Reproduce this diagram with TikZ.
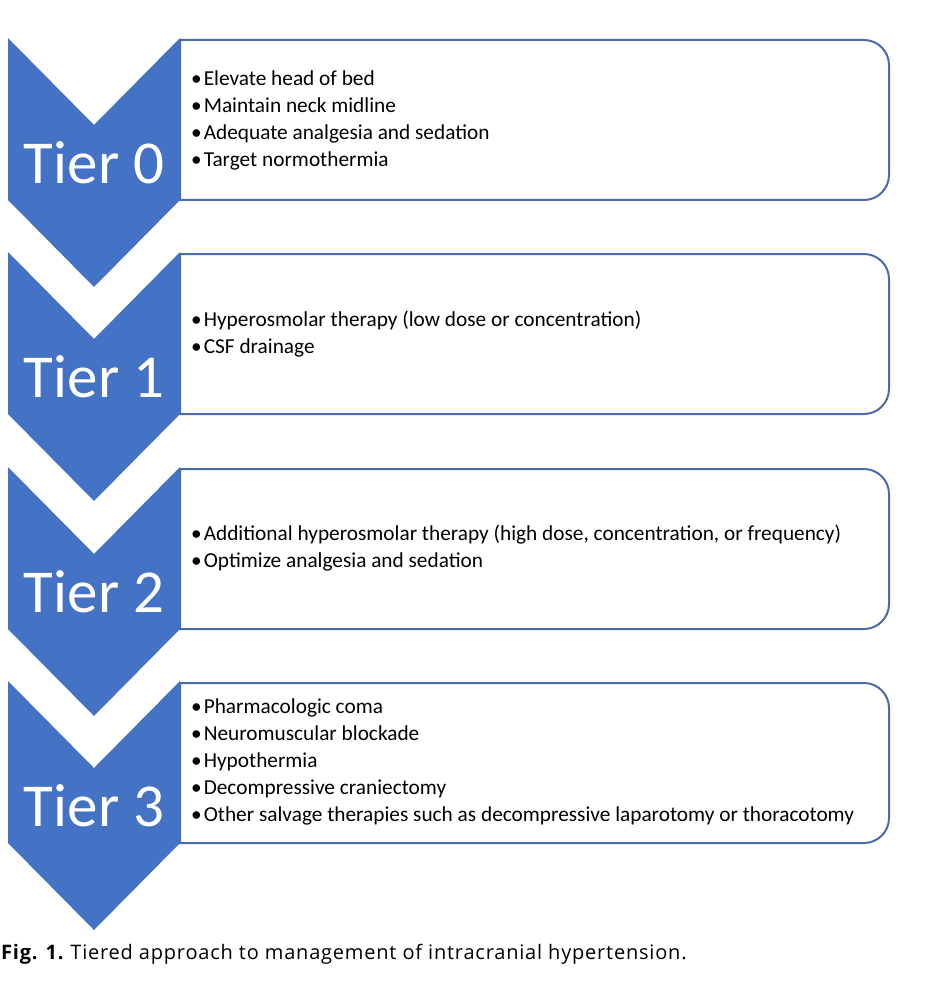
\documentclass[tikz,border=0pt]{standalone}
\usepackage{fontspec}
\setmainfont{Carlito}
\newfontfamily\capfont[LetterSpace=4]{Open Sans}
\definecolor{tierblue}{HTML}{4472C4}
\definecolor{boxline}{HTML}{4A6BAA}
\tikzset{
    chevron/.style={fill=tierblue, draw=none},
    listbox/.style={draw=boxline, line width=2pt, fill=white},
    tierlabel/.style={text=white, inner sep=0pt, font=\fontsize{61}{62}\selectfont},
    itemlist/.style={anchor=west, align=left, inner sep=0pt, font=\fontsize{21.3}{27}\selectfont},
    caption/.style={anchor=west, inner sep=0pt, font=\capfont\fontsize{20}{24}\selectfont}
}
\newcommand{\itm}{\textbullet\hspace{2pt}}

\begin{document}
\begin{tikzpicture}[x=1pt, y=-1pt]
        \useasboundingbox (0,0) rectangle (935,1000);

        % Tier 0
        \draw[listbox] (180,200) -- (180,40) -- (864,40) arc[start angle=90, end angle=0, radius=25pt] -- (889,175) arc[start angle=0, end angle=-90, radius=25pt] -- cycle;
        \fill[chevron] (8,38) -- (94,125) -- (180,38) -- (180,200) -- (94,287) -- (8,200) -- cycle;
        \node[tierlabel](t0) at (94,163){Tier 0};
        \node[itemlist](l0) at (191,120){\itm Elevate head of bed\\ \itm Maintain neck midline\\ \itm Adequate analgesia and sedation\\ \itm Target normothermia};

        % Tier 1
        \draw[listbox] (180,414) -- (180,254) -- (864,254) arc[start angle=90, end angle=0, radius=25pt] -- (889,389) arc[start angle=0, end angle=-90, radius=25pt] -- cycle;
        \fill[chevron] (8,252) -- (94,339) -- (180,252) -- (180,414) -- (94,501) -- (8,414) -- cycle;
        \node[tierlabel](t1) at (94,377){Tier 1};
        \node[itemlist](l1) at (191,334){\itm Hyperosmolar therapy (low dose or concentration)\\ \itm CSF drainage};

        % Tier 2
        \draw[listbox] (180,629) -- (180,469) -- (864,469) arc[start angle=90, end angle=0, radius=25pt] -- (889,604) arc[start angle=0, end angle=-90, radius=25pt] -- cycle;
        \fill[chevron] (8,467) -- (94,554) -- (180,467) -- (180,629) -- (94,716) -- (8,629) -- cycle;
        \node[tierlabel](t2) at (94,592){Tier 2};
        \node[itemlist](l2) at (191,548){\itm Additional hyperosmolar therapy (high dose, concentration, or frequency)\\ \itm Optimize analgesia and sedation};

        % Tier 3
        \draw[listbox] (180,843) -- (180,683) -- (864,683) arc[start angle=90, end angle=0, radius=25pt] -- (889,818) arc[start angle=0, end angle=-90, radius=25pt] -- cycle;
        \fill[chevron] (8,681) -- (94,768) -- (180,681) -- (180,843) -- (94,930) -- (8,843) -- cycle;
        \node[tierlabel](t3) at (94,806){Tier 3};
        \node[itemlist](l3) at (191,762){\itm Pharmacologic coma\\ \itm Neuromuscular blockade\\ \itm Hypothermia\\ \itm Decompressive craniectomy\\ \itm Other salvage therapies such as decompressive laparotomy or thoracotomy};

        % caption
        \node[caption](cap) at (1,954){\textbf{Fig. 1.}\hspace{6pt}Tiered approach to management of intracranial hypertension.};
    \end{tikzpicture}
\end{document}
